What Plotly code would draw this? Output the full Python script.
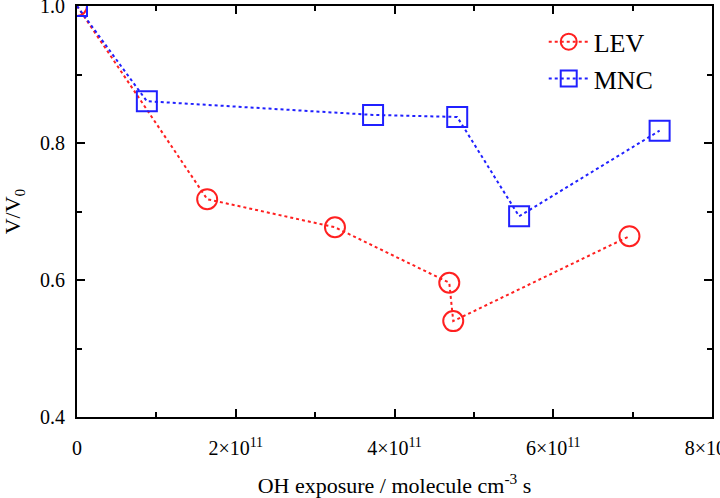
import plotly.graph_objects as go

lev_x = [0, 1.64e11, 3.25e11, 4.69e11, 4.74e11, 6.96e11]
lev_y = [1.0, 0.718, 0.677, 0.596, 0.540, 0.664]
mnc_x = [0, 0.88e11, 3.73e11, 4.79e11, 5.57e11, 7.34e11]
mnc_y = [1.0, 0.861, 0.841, 0.838, 0.693, 0.818]

x_tickvals = [0, 2e11, 4e11, 6e11, 8e11]
x_ticktext = ["0", "2×10<sup>11</sup>", "4×10<sup>11</sup>", "6×10<sup>11</sup>", "8×10<sup>11</sup>"]
y_tickvals = [0.4, 0.6, 0.8, 1.0]
y_ticktext = ["0.4", "0.6", "0.8", "1.0"]

font = "Liberation Serif"

fig = go.Figure()
fig.add_trace(go.Scatter(x=lev_x, y=lev_y, name="LEV", mode="lines+markers",
                         line=dict(color="#ff2020", dash="dot", width=2),
                         marker=dict(symbol="circle-open", size=20, color="#ff2020", line=dict(width=2))))
fig.add_trace(go.Scatter(x=mnc_x, y=mnc_y, name="MNC", mode="lines+markers",
                         line=dict(color="#2020ff", dash="dot", width=2),
                         marker=dict(symbol="square-open", size=20, color="#2020ff", line=dict(width=2))))

axis_common = dict(showgrid=False, zeroline=False, showline=True, linecolor="black", linewidth=2,
                   mirror="ticks", ticks="inside", ticklen=8, tickwidth=1.5, tickcolor="black",
                   ticklabeloverflow="allow", automargin=False,
                   tickfont=dict(family=font, size=20, color="black"))
fig.update_xaxes(range=[0, 8e11], tickvals=x_tickvals, ticktext=x_ticktext, ticklabelstandoff=12,
                 minor=dict(ticks="inside", ticklen=5, tickwidth=1.5, tickcolor="black", dtick=1e11, tick0=0),
                 title=dict(text="OH exposure / molecule cm<sup>-3</sup> s", font=dict(family=font, size=22, color="black"), standoff=22),
                 **axis_common)
fig.update_yaxes(range=[0.4, 1.0], tickvals=y_tickvals, ticktext=y_ticktext, ticklabelstandoff=6,
                 minor=dict(ticks="inside", ticklen=5, tickwidth=1.5, tickcolor="black", dtick=0.1, tick0=0.4),
                 title=dict(text="V/V<sub>0</sub>", font=dict(family=font, size=22, color="black"), standoff=24),
                 **axis_common)
fig.update_layout(width=720, height=498, margin=dict(l=77, r=8, t=6, b=81),
                  plot_bgcolor="white", paper_bgcolor="white",
                  font=dict(family=font, color="black"),
                  legend=dict(x=0.735, y=0.97, xanchor="left", yanchor="top", bgcolor="rgba(0,0,0,0)",
                              font=dict(family=font, size=26, color="black"), itemwidth=40, tracegroupgap=0))
fig.write_html("out.html")
